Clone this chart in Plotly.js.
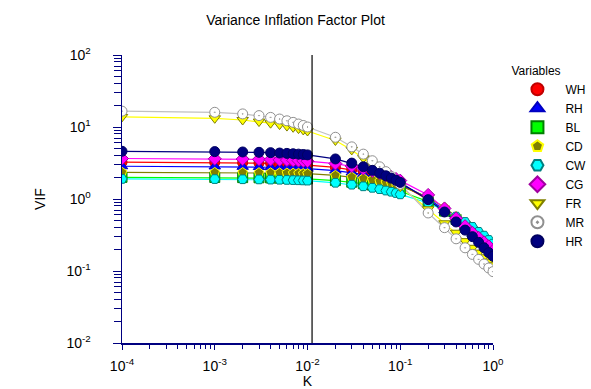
<!DOCTYPE html>
<html><head><meta charset="utf-8">
<script src="https://cdn.plot.ly/plotly-3.0.1.min.js"></script>
<style>html,body{margin:0;padding:0;background:#fff}#chart{width:591px;height:389px}</style>
</head><body><div id="chart"></div>
<script>
const K = [0.0001, 0.001,0.002,0.003,0.004,0.005,0.006,0.007,0.008,0.009,0.01,
  0.02,0.03,0.04,0.05,0.06,0.07,0.08,0.09,0.1,
  0.2,0.3,0.4,0.5,0.6,0.7,0.8,0.9,1.0];
const K_SELECTED = 0.0112;
const xTickVals = [0.0001, 0.001, 0.01, 0.1, 1];
const xTickText = ['10<sup>-4</sup>','10<sup>-3</sup>','10<sup>-2</sup>','10<sup>-1</sup>','10<sup>0</sup>'];
const yTickVals = [0.01, 0.1, 1, 10, 100];
const yTickText = ['10<sup>-2</sup>','10<sup>-1</sup>','10<sup>0</sup>','10<sup>1</sup>','10<sup>2</sup>'];
const seriesNames = ["WH","RH","BL","CD","CW","CG","FR","MR","HR"];
const WH = [3.25, 3.22,3.19,3.16,3.13,3.10,3.07,3.04,3.01,2.98,2.95, 2.75,2.55,2.38,2.22,2.08,1.95,1.83,1.72,1.62, 0.98,0.67,0.50,0.39,0.32,0.27,0.23,0.20,0.18];
const RH = [2.85, 2.83,2.80,2.78,2.76,2.74,2.72,2.70,2.68,2.66,2.64, 2.48,2.33,2.20,2.08,1.97,1.87,1.78,1.70,1.62, 1.02,0.70,0.52,0.41,0.33,0.28,0.24,0.21,0.19];
const BL = [2.0, 1.99,1.98,1.97,1.96,1.95,1.94,1.93,1.92,1.91,1.90, 1.80,1.71,1.63,1.56,1.50,1.44,1.38,1.33,1.28, 0.92,0.68,0.52,0.42,0.35,0.30,0.26,0.23,0.21];
const CD = [2.35, 2.34,2.33,2.32,2.31,2.30,2.29,2.28,2.27,2.26,2.25, 2.13,2.02,1.93,1.85,1.77,1.70,1.64,1.58,1.52, 1.06,0.76,0.57,0.45,0.37,0.31,0.27,0.24,0.21];
const CW = [1.90, 1.89,1.88,1.87,1.86,1.85,1.84,1.83,1.82,1.81,1.80, 1.68,1.58,1.50,1.43,1.37,1.31,1.26,1.21,1.16, 0.88,0.70,0.57,0.48,0.41,0.35,0.31,0.27,0.24];
const CG = [3.65, 3.62,3.59,3.56,3.53,3.50,3.47,3.44,3.41,3.38,3.35, 3.10,2.86,2.65,2.46,2.30,2.15,2.02,1.90,1.80, 1.14,0.74,0.54,0.42,0.34,0.29,0.25,0.22,0.19];
const FR = [13.8, 13.2,12.5,11.9,11.3,10.8,10.3,9.9,9.5,9.1,8.8, 6.5,4.8,3.7,3.0,2.5,2.15,1.88,1.66,1.48, 0.72,0.46,0.34,0.26,0.21,0.18,0.155,0.135,0.12];
const MR = [16.6, 16.0,15.2,14.4,13.6,12.9,12.2,11.6,11.0,10.5,10.0, 7.2,5.3,4.2,3.4,2.8,2.4,2.05,1.8,1.6, 0.64,0.40,0.28,0.21,0.17,0.145,0.125,0.11,0.098];
const HR = [4.6, 4.55,4.5,4.45,4.4,4.35,4.3,4.25,4.2,4.15,4.1, 3.6,3.15,2.8,2.5,2.28,2.1,1.95,1.82,1.7, 0.98,0.66,0.48,0.37,0.30,0.25,0.21,0.18,0.16];

const values = {WH, RH, BL, CD, CW, CG, FR, MR, HR};
const styles = {
  WH: {line:'#ff0000', fill:'#ff0000', edge:'#c00000', symbol:'circle'},
  RH: {line:'#0000ff', fill:'#0000ff', edge:'#0000c0', symbol:'triangle-up'},
  BL: {line:'#00ff00', fill:'#00ff00', edge:'#008000', symbol:'square'},
  CD: {line:'#808000', fill:'#808000', edge:'#ffff00', symbol:'pentagon'},
  CW: {line:'#00ffff', fill:'#00ffff', edge:'#008080', symbol:'hexagon2'},
  CG: {line:'#ff00ff', fill:'#ff00ff', edge:'#a000a0', symbol:'diamond'},
  FR: {line:'#ffff00', fill:'#ffff00', edge:'#808000', symbol:'triangle-down'},
  MR: {line:'#c0c0c0', fill:'#ffffff', edge:'#909090', symbol:'circle-dot'},
  HR: {line:'#000080', fill:'#000080', edge:'#000060', symbol:'circle'}
};

const traces = [];
seriesNames.forEach(n => {
  traces.push({type:'scatter', mode:'lines', x:K, y:values[n], showlegend:false, hoverinfo:'skip',
    line:{color:styles[n].line, width:1.2}});
});
seriesNames.forEach(n => {
  traces.push({type:'scatter', mode:'markers', name:n, x:K, y:values[n],
    marker:{symbol:styles[n].symbol, size:10, color:styles[n].fill, line:{color:styles[n].edge, width:1}}});
});
traces.push({type:'scatter', mode:'lines', x:[K_SELECTED, K_SELECTED], y:[0.01, 100],
  line:{color:'#000000', width:1.2}, showlegend:false, hoverinfo:'skip'});

const tickFont = {family:'Arial, Liberation Sans, sans-serif', size:14, color:'#000'};
const axisCommon = {
  type:'log', tickmode:'array', showgrid:false, zeroline:false, automargin:false,
  showline:true, linecolor:'#000080', linewidth:1.5, ticks:'outside', tickcolor:'#000080',
  tickfont:tickFont
};

const layout = {
  width:591, height:389,
  margin:{l:122, r:98, t:55, b:46},
  paper_bgcolor:'#fff', plot_bgcolor:'#fff',
  font:{family:'Arial, Liberation Sans, sans-serif', size:12, color:'#000'},
  title:{text:'Variance Inflation Factor Plot', x:0.5, xanchor:'center', y:0.948, yanchor:'middle', font:{size:14}},
  xaxis:Object.assign({}, axisCommon, {range:[-4,0], tickvals:xTickVals, ticktext:xTickText, ticklen:5, ticklabelstandoff:5,
    minor:{ticks:'outside', dtick:'D1', tickcolor:'#000080', ticklen:4, showgrid:false},
    title:{text:'K', standoff:0, font:{size:14}}}),
  yaxis:Object.assign({}, axisCommon, {range:[-2,2], tickvals:yTickVals, ticktext:yTickText, ticklen:8, ticklabelstandoff:19,
    minor:{ticks:'outside', dtick:'D1', tickcolor:'#000080', ticklen:7, showgrid:false},
    title:{text:'VIF', standoff:17, font:{size:14}}}),
  legend:{xref:'container', yref:'container', x:0.862, xanchor:'left', y:0.848, yanchor:'top',
    title:{text:'Variables', font:{size:12}}, itemwidth:46,
    font:{size:12}, bgcolor:'rgba(0,0,0,0)', itemsizing:'constant'},
  showlegend:true
};

Plotly.newPlot('chart', traces, layout, {staticPlot:true, displayModeBar:false});
</script>
</body></html>
